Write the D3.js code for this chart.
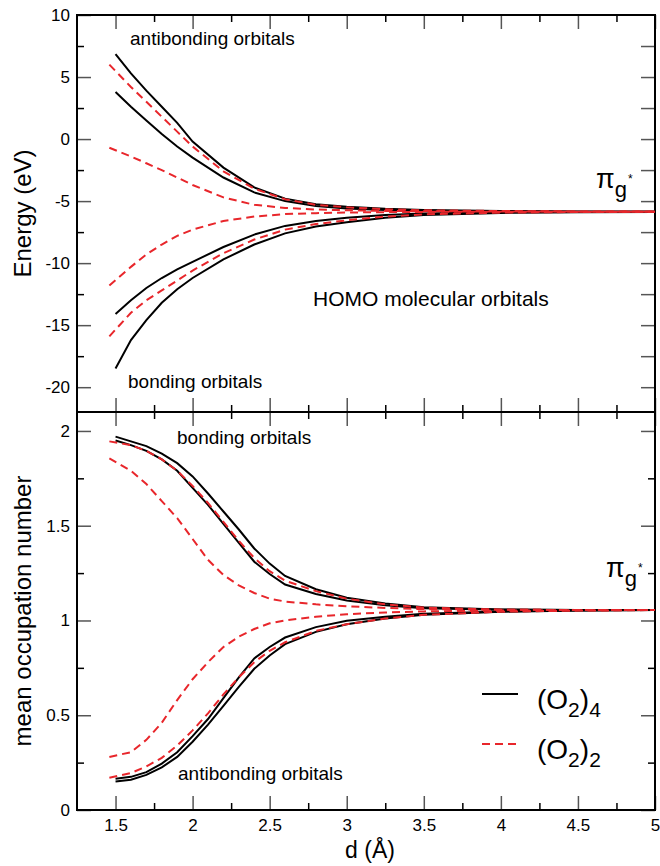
<!DOCTYPE html>
<html>
<head>
<meta charset="utf-8">
<script src="https://cdn.jsdelivr.net/npm/d3@7"></script>
<style>
body { margin: 0; background: #fff; }
svg { display: block; font-family: "Liberation Sans", Arial, sans-serif; }
</style>
</head>
<body>
<svg width="660" height="866"></svg>
<script>
// distances d (Å) -- the (O2)2 runs start a little before 1.5
var dE    = [1.5, 1.6, 1.7, 1.8, 1.9, 2.0, 2.2, 2.4, 2.6, 2.8, 3.0, 3.25, 3.5, 4.0, 4.5, 5.0];
var dERed = [1.46, 1.6, 1.7, 1.8, 1.9, 2.0, 2.2, 2.4, 2.6, 2.8, 3.0, 3.25, 3.5, 4.0, 4.5, 5.0];
var dN    = [1.5, 1.6, 1.7, 1.8, 1.9, 2.0, 2.1, 2.2, 2.3, 2.4, 2.5, 2.6, 2.8, 3.0, 3.25, 3.5, 4.0, 4.5, 5.0];
var dNRed = [1.46, 1.6, 1.7, 1.8, 1.9, 2.0, 2.1, 2.2, 2.3, 2.4, 2.5, 2.6, 2.8, 3.0, 3.25, 3.5, 4.0, 4.5, 5.0];

// HOMO energies (eV), (O2)4 in black, (O2)2 in red
var eAnti4a = [6.85, 5.3, 3.9, 2.6, 1.3, -0.2, -2.3, -3.9, -4.8, -5.25, -5.45, -5.62, -5.72, -5.8, -5.84, -5.85];
var eAnti4b = [3.8, 2.6, 1.5, 0.4, -0.6, -1.5, -3.1, -4.3, -5.0, -5.4, -5.6, -5.72, -5.78, -5.83, -5.85, -5.86];
var eBond4a = [-14.1, -13.0, -12.0, -11.2, -10.5, -9.9, -8.7, -7.7, -7.0, -6.6, -6.35, -6.12, -6.0, -5.9, -5.87, -5.86];
var eBond4b = [-18.5, -16.2, -14.6, -13.2, -12.1, -11.2, -9.7, -8.5, -7.6, -7.05, -6.7, -6.35, -6.13, -5.95, -5.89, -5.87];
var eAnti2a = [6.0, 4.2, 3.0, 1.8, 0.6, -0.6, -2.6, -4.0, -4.85, -5.3, -5.5, -5.65, -5.74, -5.8, -5.84, -5.85];
var eAnti2b = [-0.7, -1.4, -1.95, -2.5, -3.1, -3.7, -4.7, -5.3, -5.55, -5.68, -5.74, -5.79, -5.82, -5.84, -5.85, -5.85];
var eBond2a = [-11.8, -10.3, -9.3, -8.5, -7.8, -7.3, -6.6, -6.25, -6.05, -5.97, -5.92, -5.89, -5.87, -5.86, -5.85, -5.85];
var eBond2b = [-15.9, -14.0, -13.0, -12.2, -11.4, -10.6, -9.2, -8.1, -7.3, -6.85, -6.55, -6.25, -6.07, -5.93, -5.88, -5.86];

// mean occupation numbers
var nBond4a = [1.97, 1.945, 1.92, 1.88, 1.83, 1.76, 1.67, 1.575, 1.48, 1.38, 1.30, 1.235, 1.165, 1.12, 1.09, 1.07, 1.058, 1.055, 1.055];
var nBond4b = [1.95, 1.925, 1.895, 1.85, 1.79, 1.70, 1.61, 1.51, 1.41, 1.31, 1.245, 1.19, 1.14, 1.105, 1.08, 1.065, 1.057, 1.055, 1.055];
var nAnti4a = [0.165, 0.175, 0.2, 0.245, 0.305, 0.39, 0.48, 0.59, 0.7, 0.80, 0.86, 0.91, 0.965, 0.998, 1.02, 1.035, 1.048, 1.053, 1.055];
var nAnti4b = [0.15, 0.16, 0.185, 0.225, 0.28, 0.36, 0.45, 0.55, 0.65, 0.745, 0.815, 0.875, 0.94, 0.98, 1.01, 1.03, 1.046, 1.052, 1.055];
var nBond2a = [1.945, 1.925, 1.895, 1.85, 1.79, 1.71, 1.62, 1.52, 1.42, 1.33, 1.26, 1.21, 1.155, 1.115, 1.085, 1.068, 1.057, 1.055, 1.055];
var nBond2b = [1.855, 1.79, 1.72, 1.63, 1.54, 1.43, 1.32, 1.24, 1.185, 1.145, 1.115, 1.10, 1.085, 1.075, 1.066, 1.06, 1.057, 1.055, 1.055];
var nAnti2a = [0.17, 0.195, 0.23, 0.275, 0.34, 0.42, 0.51, 0.61, 0.70, 0.78, 0.84, 0.885, 0.945, 0.98, 1.01, 1.03, 1.046, 1.052, 1.055];
var nAnti2b = [0.28, 0.305, 0.37, 0.46, 0.58, 0.69, 0.78, 0.86, 0.915, 0.955, 0.985, 1.0, 1.02, 1.033, 1.042, 1.048, 1.052, 1.054, 1.055];

// ticks
var xMajor = [1.5, 2, 2.5, 3, 3.5, 4, 4.5, 5];
var xMinor = [1.75, 2.25, 2.75, 3.25, 3.75, 4.25, 4.75];
var eMajor = [10, 5, 0, -5, -10, -15, -20];
var eMinor = [7.5, 2.5, -2.5, -7.5, -12.5, -17.5];
var eRight = [7.5, 5, 2.5, 0, -2.5, -5, -7.5, -10, -12.5, -15, -17.5, -20];
var nMajor = [0, 0.5, 1, 1.5, 2];
var nMinor = [0.25, 0.75, 1.25, 1.75];

var svg = d3.select("svg");
var pLeft = 77, pRight = 655, pTop = 15, pMid = 412, pBottom = 810;
var font = "Liberation Sans, Arial, sans-serif";

var x  = d3.scaleLinear().domain([1.25, 5]).range([pLeft, pRight]);
var yE = d3.scaleLinear().domain([-22, 10]).range([pMid, pTop]);
var yN = d3.scaleLinear().domain([0, 2.1]).range([pBottom, pMid]);

function addAxis(tr, gen, vals, size, col, labels) {
	var g = svg.append("g")
		.attr("transform", tr)
		.call(gen.tickValues(vals).tickSizeInner(size).tickSizeOuter(0)
			.tickPadding(labels ? 7 : 0)
			.tickFormat(labels ? function(d) { return String(d); } : ""));
	g.select(".domain").remove();
	g.attr("font-family", font).attr("font-size", 17);
	g.selectAll(".tick line").attr("stroke", col).attr("stroke-width", 1.5);
	g.selectAll(".tick text").attr("fill", "#000");
	return g;
}

// top panel ticks
addAxis("translate(" + pLeft + ",0)", d3.axisLeft(yE), eMajor, -14, "#555", true);
addAxis("translate(" + pLeft + ",0)", d3.axisLeft(yE), eMinor, -7, "#000", false);
addAxis("translate(" + pRight + ",0)", d3.axisRight(yE), eRight, -14, "#555", false);
addAxis("translate(0," + pTop + ")", d3.axisTop(x), xMajor, -14, "#555", false);
addAxis("translate(0," + pTop + ")", d3.axisTop(x), xMinor, -7, "#000", false);
addAxis("translate(0," + pMid + ")", d3.axisBottom(x), xMajor, -14, "#555", false);
addAxis("translate(0," + pMid + ")", d3.axisBottom(x), xMinor, -7, "#000", false);

// bottom panel ticks
addAxis("translate(" + pLeft + ",0)", d3.axisLeft(yN), nMajor, -14, "#555", true);
addAxis("translate(" + pLeft + ",0)", d3.axisLeft(yN), nMinor, -7, "#000", false);
addAxis("translate(" + pRight + ",0)", d3.axisRight(yN), nMajor, -14, "#555", false);
addAxis("translate(" + pRight + ",0)", d3.axisRight(yN), nMinor, -7, "#000", false);
addAxis("translate(0," + pMid + ")", d3.axisTop(x), xMajor, -14, "#555", false);
addAxis("translate(0," + pMid + ")", d3.axisTop(x), xMinor, -7, "#000", false);
var xb = addAxis("translate(0," + pBottom + ")", d3.axisBottom(x), xMajor, -14, "#555", true);
xb.selectAll(".tick text").attr("y", 9);
addAxis("translate(0," + pBottom + ")", d3.axisBottom(x), xMinor, -7, "#000", false);

// frames
[[pTop, pMid], [pMid, pBottom]].forEach(function(p) {
	svg.append("rect")
		.attr("x", pLeft).attr("y", p[0])
		.attr("width", pRight - pLeft).attr("height", p[1] - p[0])
		.attr("fill", "none").attr("stroke", "#000").attr("stroke-width", 2);
});

// curves
function curve(xs, ys, y, red) {
	var line = d3.line()
		.x(function(d) { return x(d[0]); })
		.y(function(d) { return y(d[1]); });
	svg.append("path")
		.datum(d3.zip(xs, ys))
		.attr("d", line)
		.attr("fill", "none")
		.attr("stroke", red ? "#e8262b" : "#000")
		.attr("stroke-width", 2)
		.attr("stroke-dasharray", red ? "8,5" : null);
}

[eAnti4a, eAnti4b, eBond4a, eBond4b].forEach(function(s) { curve(dE, s, yE, false); });
[nBond4a, nBond4b, nAnti4a, nAnti4b].forEach(function(s) { curve(dN, s, yN, false); });
[eAnti2a, eAnti2b, eBond2a, eBond2b].forEach(function(s) { curve(dERed, s, yE, true); });
[nBond2a, nBond2b, nAnti2a, nAnti2b].forEach(function(s) { curve(dNRed, s, yN, true); });

// annotations
function label(tx, ty, txt, size, anchor) {
	return svg.append("text")
		.attr("x", tx).attr("y", ty)
		.attr("font-family", font)
		.attr("font-size", size)
		.attr("text-anchor", anchor || "start")
		.text(txt);
}
label(130, 45, "antibonding orbitals", 19);
label(128, 388, "bonding orbitals", 19);
label(313, 306, "HOMO molecular orbitals", 21);
label(177, 444, "bonding orbitals", 19);
label(178, 780, "antibonding orbitals", 19);

function piLabel(px, py) {
	var t = svg.append("text").attr("x", px).attr("y", py)
		.attr("font-family", font).attr("font-size", 27).text("π");
	t.append("tspan").attr("font-size", 22).attr("dy", 9).text("g");
	t.append("tspan").attr("font-size", 12).attr("dy", -14).attr("dx", 1).text("*");
}
piLabel(596, 188);
piLabel(606, 577);

// axis titles
svg.append("text")
	.attr("transform", "translate(31," + ((pTop + pMid) / 2) + ") rotate(-90)")
	.attr("text-anchor", "middle")
	.attr("font-family", font).attr("font-size", 24)
	.text("Energy (eV)");
svg.append("text")
	.attr("transform", "translate(31," + ((pMid + pBottom) / 2) + ") rotate(-90)")
	.attr("text-anchor", "middle")
	.attr("font-family", font).attr("font-size", 24)
	.text("mean occupation number");
label((pLeft + pRight) / 2 + 4, 858, "d (Å)", 23, "middle");

// legend
function legendRow(ly, red, sub) {
	svg.append("line")
		.attr("x1", 482).attr("x2", 518).attr("y1", ly).attr("y2", ly)
		.attr("stroke", red ? "#e8262b" : "#000")
		.attr("stroke-width", 2)
		.attr("stroke-dasharray", red ? "8,5" : null);
	var t = svg.append("text").attr("x", 537).attr("y", ly + 15)
		.attr("font-family", font).attr("font-size", 28).text("(O");
	t.append("tspan").attr("font-size", 21).attr("dy", 8).text("2");
	t.append("tspan").attr("dy", -8).text(")");
	t.append("tspan").attr("font-size", 21).attr("dy", 8).text(sub);
}
legendRow(694, false, "4");
legendRow(744, true, "2");
</script>
</body>
</html>
